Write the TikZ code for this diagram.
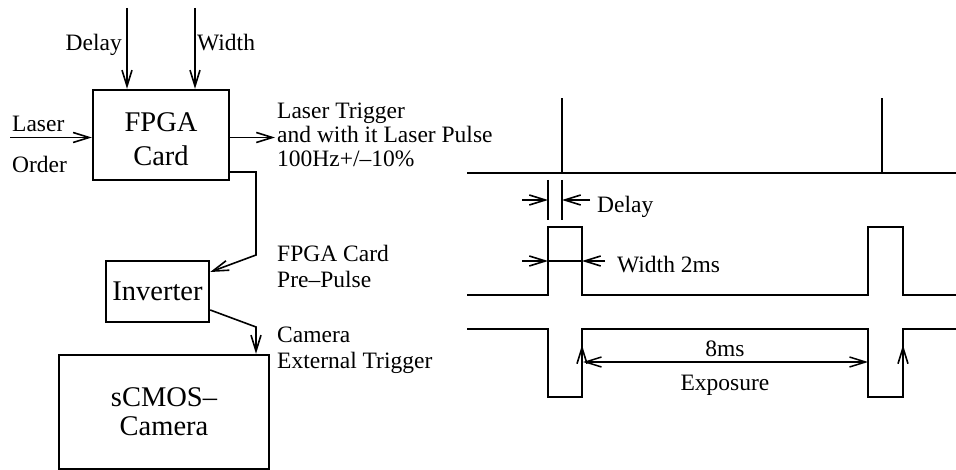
\documentclass[tikz,border=0pt]{standalone}
\usepackage{fontspec}
\setmainfont{Liberation Serif}
\usetikzlibrary{arrows.meta}
\begin{document}
\begin{tikzpicture}[x=1pt,y=-1pt,
  box/.style={draw, line width=2.4pt, inner sep=0pt, align=center, font=\fontsize{28.5}{34}\selectfont},
  lbl/.style={inner sep=0pt, align=left, font=\fontsize{23.5}{26}\selectfont},
  barb/.tip={Straight Barb[length=16pt,width=10pt]},
  arr/.style={line width=1.6pt, -barb},
  dimarr/.style={line width=1.5pt, barb-barb},
  thinline/.style={line width=1.5pt},
  sig/.style={line width=2.2pt, line join=miter}]
\useasboundingbox (0,0) rectangle (956,470);

% blocks
\node[box, minimum width=136pt, minimum height=90pt] (fpga) at (161,135) {\rule{0pt}{27pt}FPGA\\Card};
\node[box, minimum width=103pt, minimum height=61pt] (inv) at (157.5,291.5) {Inverter};
\node[box, minimum width=210pt, minimum height=114pt, font=\fontsize{28.5}{29}\selectfont] (cam) at (164,412) {sCMOS--\\Camera};

% labels
\node[lbl, anchor=base east] (ldelay) at (122,51) {Delay};
\node[lbl, anchor=base west] (lwidth) at (197,51) {Width};
\node[lbl, anchor=base west] (llaser) at (12,132) {Laser};
\node[lbl, anchor=base west] (lorder) at (12,173) {Order};
\node[lbl, anchor=base west, font=\fontsize{23.5}{24.3}\selectfont] (ltrig) at (277,166.7) {Laser Trigger\\and with it Laser Pulse\\100Hz+/--10\%};
\node[lbl, anchor=base west] (lpre) at (277,287.7) {FPGA Card\\Pre--Pulse};
\node[lbl, anchor=base west] (lcam) at (277,368) {Camera\\External Trigger};

% connectors
\coordinate (dtop) at (127,8);
\coordinate (wtop) at (195,8);
\draw[arr] (dtop) -- (dtop |- fpga.north);
\draw[arr] (wtop) -- (wtop |- fpga.north);
\coordinate (lin) at (10,137.5);
\draw[arr] (lin) -- (lin -| fpga.west);
\coordinate (lout) at (275,137.5);
\draw[arr] (lout -| fpga.east) -- (lout);
\coordinate (k1) at (256,172);
\coordinate (k2) at (256,255);
\coordinate (iin) at (209,272);
\draw[arr, line join=miter] (k1 -| fpga.east) -- (k1) -- (k2) -- (iin -| inv.east);
\coordinate (iout) at (209,310);
\coordinate (k3) at (256,327);
\draw[arr] (iout -| inv.east) -- (k3) -- (k3 |- cam.north);

% timing: laser pulse
\draw[sig] (467,173) -- (956,173);
\draw[sig] (562,173) -- (562,98);
\draw[sig] (882,173) -- (882,98);

% FPGA pre-pulse
\draw[sig] (467,295) -- (548,295) -- (548,227) -- (582,227) -- (582,295) -- (868,295) -- (868,227) -- (903,227) -- (903,295) -- (956,295);

% camera trigger
\draw[sig] (467,329) -- (548,329) -- (548,397) -- (582,397) -- (582,329) -- (868,329) -- (868,397) -- (903,397) -- (903,329) -- (956,329);

% delay dimension
\draw[thinline] (548,180) -- (548,220);
\draw[thinline] (562,180) -- (562,220);
\draw[arr] (522,200) -- (548,200);
\draw[arr] (590,200) -- (562,200);
\node[lbl, anchor=base west] (tdelay) at (597,212.5) {Delay};

% width dimension
\draw[thinline] (548,261) -- (582,261);
\draw[arr] (522,261) -- (548,261);
\draw[arr] (605,261) -- (582,261);
\node[lbl, anchor=base west] (twidth) at (617,273) {Width 2ms};

% rising edge markers
\draw[arr] (582,385) -- (582,345);
\draw[arr] (903,385) -- (903,345);

% exposure
\draw[dimarr] (583,362) -- (868,362);
\node[lbl, anchor=base] (t8ms) at (725,356) {8ms};
\node[lbl, anchor=base] (texp) at (725,390) {Exposure};
\end{tikzpicture}
\end{document}
